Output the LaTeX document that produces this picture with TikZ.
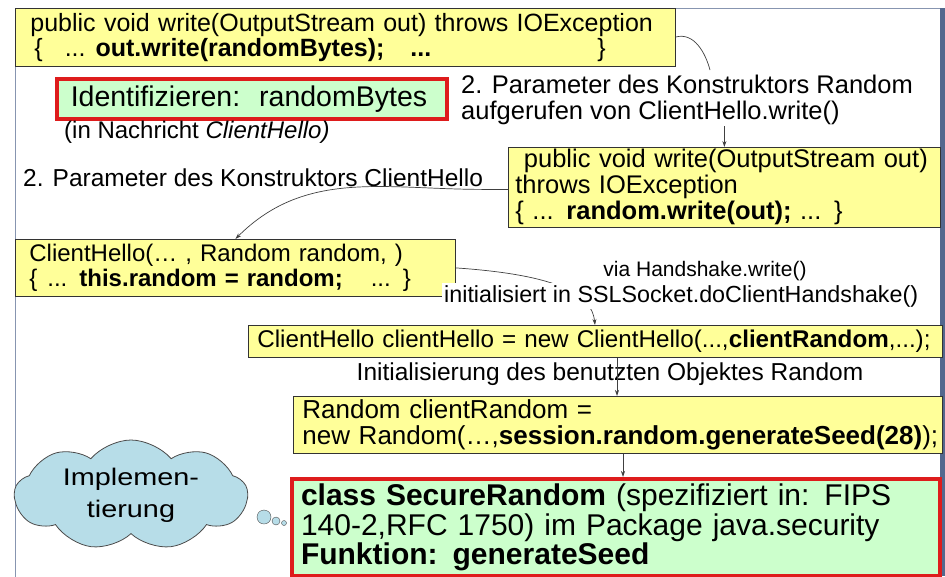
\documentclass[tikz,border=0pt]{standalone}
\usepackage{fontspec}
\setmainfont{Liberation Sans}
\usetikzlibrary{shapes.symbols,arrows.meta}
\definecolor{codeyellow}{RGB}{255,255,153}
\definecolor{idgreen}{RGB}{204,255,204}
\definecolor{markred}{RGB}{222,28,28}
\definecolor{cloudblue}{RGB}{183,221,232}
\definecolor{frameblue}{RGB}{84,104,142}
\newcommand\fsz[2]{\fontsize{#1}{#2}\selectfont}
\tikzset{
  >={Stealth[length=6pt,width=4pt]},
  codebox/.style={draw=black!80, fill=codeyellow, line width=0.8pt, anchor=north west,
    inner xsep=9pt, inner ysep=1pt, align=left, font=\fsz{24}{25}},
  idbox/.style={draw=markred, fill=idgreen, line width=3.5pt, anchor=north west,
    inner xsep=9pt, inner ysep=1pt, align=left},
  note/.style={inner sep=1pt, align=left, font=\fsz{24.5}{26}},
  link/.style={draw=black!75, line width=0.7pt},
}
\begin{document}
\begin{tikzpicture}[x=1pt,y=-1pt]
\useasboundingbox (0,0) rectangle (945,576);
% slide frame
\draw[frameblue!70, line width=0.8pt] (15,8) rectangle (941,590);
\fill[frameblue] (940,8) rectangle (945,576);

% code boxes
\node[codebox, inner xsep=15pt, text width=630pt, minimum height=58pt, font=\fsz{25}{23}] (topwrite) at (15,8)
  {public void write(OutputStream out) throws IOException\\
   \hspace{4pt}\{\hspace{22pt}...\hspace{10pt}\textbf{out.write(randomBytes);}\hspace{26pt}\textbf{...}\hspace{166pt}\}};
\node[idbox, inner xsep=14pt, text width=362pt, minimum height=40pt, font=\fsz{28.5}{30}] (ident) at (55,77)
  {Identifizieren:\ \ randomBytes};
\node[note, anchor=north west, font=\fsz{25.5}{26}] (konst) at (460,74)
  {2. Parameter des Konstruktors Random\\aufgerufen von ClientHello.write()};
\node[note, anchor=west, font=\fsz{24}{26}] (nachricht) at (63,132) {(in Nachricht \textit{ClientHello)}};
\node[note, anchor=west] (konsthello) at (22,178) {2. Parameter des Konstruktors ClientHello};
\node[codebox, inner xsep=7pt, text width=418pt, minimum height=80pt, font=\fsz{25.5}{26}] (rwrite) at (508,147)
  {\ public void write(OutputStream out)\\throws IOException\\
   \{ ... \textbf{random.write(out);} ... \}};
\node[codebox, inner xsep=14pt, text width=412pt, minimum height=57pt] (hello) at (15,239)
  {ClientHello(\dots\ , Random random, )\\
   \{\hspace{10pt}... \textbf{this.random = random;}\hspace{28pt}... \}};

% connectors
\draw[link] (topwrite.east |- 0,37) to[out=15,in=105] (710,70);
\draw[link, ->] (konst.south -| rwrite.north) -- (rwrite.north);
\draw[link, ->] ([yshift=-2pt]rwrite.west) -- ++(-25,0) to[out=180,in=45] (hello.north);

\node[codebox, text width=676pt, minimum height=32pt, font=\fsz{24.2}{25}] (newhello) at (248,325)
  {ClientHello clientHello = new ClientHello(...,\textbf{clientRandom},...);};
\draw[link, ->] (hello.east) .. controls (560,275) and (592,295) .. (newhello.north -| 595,0);

\node[note, fill=white, font=\fsz{21}{24}] (via) at (705,271) {via Handshake.write()};
\node[note, fill=white, anchor=west, inner sep=2pt, font=\fsz{23.3}{25}] (initin) at (442,296)
  {initialisiert in SSLSocket.doClientHandshake()};

\node[note] (initrand) at (610,374) {Initialisierung des benutzten Objektes Random};
\node[codebox, text width=631pt, minimum height=57pt, font=\fsz{26}{26}] (rand) at (293,396)
  {Random clientRandom =\\new Random(\dots,\textbf{session.random.generateSeed(28)});};
\draw[link, ->] (newhello.south -| 617,0) -- (rand.north -| 617,0);

\node[idbox, text width=630pt, minimum height=97pt, line width=4pt, font=\fsz{30}{29.5}] (secure) at (290,477)
  {\textbf{class SecureRandom} (spezifiziert in: FIPS\\
   140-2,RFC 1750) im Package java.security\\
   \textbf{Funktion: generateSeed}};
\draw[link, ->] (rand.south -| 623,0) -- (secure.north -| 623,0);

% thought cloud
\node[cloud, cloud puffs=9, cloud puff arc=100, aspect=2.1, draw=black!70, fill=cloudblue, line width=0.8pt,
  minimum width=233pt, minimum height=110pt, inner sep=0pt] (impl) at (131,495) {};
\node[align=center, font=\fsz{24}{32}\addfontfeature{FakeStretch=1.2}] (impltext) at (impl.center)
  {Implemen-\\tierung};
\draw[black!70, fill=cloudblue] (264,517) circle (7);
\draw[black!70, fill=cloudblue] (276,521) circle (4);
\draw[black!70, fill=cloudblue] (284,523) circle (2.5);
\end{tikzpicture}
\end{document}
